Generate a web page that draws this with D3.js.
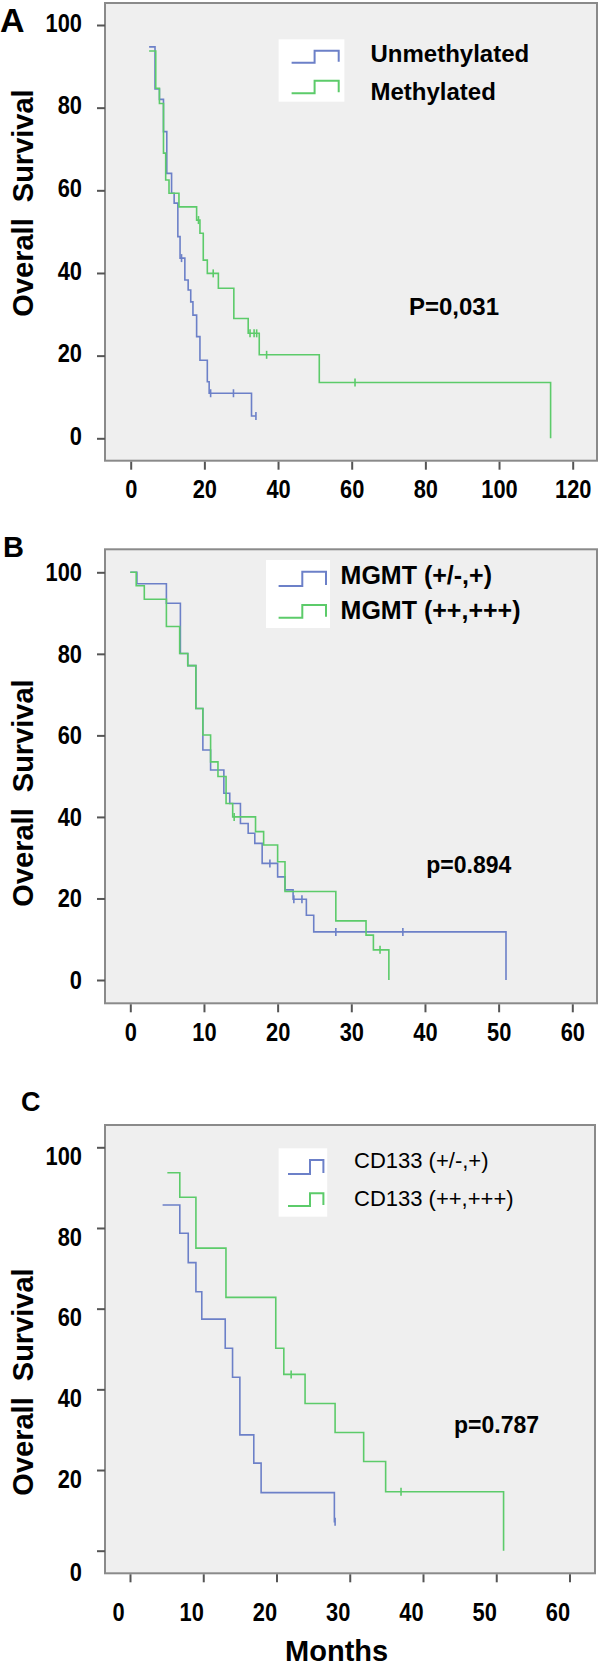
<!DOCTYPE html>
<html>
<head>
<meta charset="utf-8">
<script src="https://cdn.jsdelivr.net/npm/d3@7"></script>
<style>
  body { margin: 0; background: #fff; }
  text { font-family: "Liberation Sans", Arial, sans-serif; fill: #000; }
  .tick text { font-weight: bold; font-size: 26px; }
  .tick line { stroke: #555; stroke-width: 2; }
</style>
</head>
<body>
<script>
// ---- data ----
var survTicks = [0, 20, 40, 60, 80, 100];
var monthTicksA = [0, 20, 40, 60, 80, 100, 120];
var monthTicksBC = [0, 10, 20, 30, 40, 50, 60];

// A: MGMT promoter
var aUnmethTime = [5, 6.6, 7.8, 8.9, 9.8, 11.1, 11.8, 12.8, 13.4, 14.7, 15.6, 16.3, 16.9, 17.9, 18.8, 20.8, 21.3, 32.8];
var aUnmethSurv = [94.7, 84.5, 82, 74.2, 64.1, 59.3, 56.9, 48.8, 43.6, 38.3, 35.9, 33, 29.8, 24.6, 18.9, 13.7, 10.9, 5.4];
var aUnmethCensor = [13.8, 21.7, 27.9, 34];
var aUnmethEnd = 34;

var aMethTime = [5, 6.8, 7.8, 8.9, 9.5, 10.4, 13.1, 17.9, 18.8, 19.7, 20.8, 23.8, 28, 31.9, 34.9, 51.2, 114];
var aMethSurv = [93.7, 84.7, 81, 69, 62.5, 59.3, 56, 52.8, 49.6, 43.1, 39.9, 36.3, 29, 25.4, 20.2, 13.5, 0];
var aMethCensor = [18.4, 22.4, 32.4, 33.5, 34.2, 36.9, 60.9];
var aMethEnd = 114;

// B: MGMT protein
var bLowTime = [0, 0.9, 4.9, 6.8, 7.8, 8.9, 9.85, 10.9, 12.7, 13.5, 14.95, 16, 16.9, 17.9, 20, 21, 22.1, 23.9, 24.9, 51];
var bLowSurv = [100, 97.2, 92.4, 80.1, 77.1, 66.6, 56.4, 51.5, 45.8, 43.3, 38.4, 36, 33.5, 28.6, 25.3, 22.1, 19.8, 15.9, 11.8, 0];
var bLowCensor = [18.95, 22.2, 23.3, 27.9, 37];
var bLowEnd = 51;

var bHighTime = [0, 0.8, 1.9, 4.9, 6.7, 7.8, 8.9, 9.85, 10.9, 11.9, 13, 13.9, 17, 18.1, 20, 21, 27.9, 32, 33, 35.1];
var bHighSurv = [100, 96.7, 93.4, 86.7, 80.1, 77.1, 66.6, 60.1, 53.5, 49.9, 43.3, 40, 36.4, 33.1, 29, 21.7, 14.5, 11, 7.4, 0];
var bHighCensor = [14.1, 33.9];
var bHighEnd = 35.1;

// C: CD133
var cLowTime = [4.45, 6.8, 7.95, 9, 9.8, 13, 14, 15, 16.9, 17.9, 27.9];
var cLowSurv = [85.7, 78.7, 71.4, 64.2, 57.4, 50.2, 43, 28.7, 21.7, 14.4, 7.2];
var cLowCensor = [28];
var cLowEnd = 28;

var cHighTime = [5.1, 6.8, 9, 13.1, 19.9, 21, 23.9, 28, 31.9, 34.9, 51];
var cHighSurv = [93.7, 87.6, 75, 62.8, 50.2, 43.7, 36.5, 29.3, 22.1, 14.6, 0];
var cHighCensor = [22, 37];
var cHighEnd = 51;

var blue = '#6c80c8', green = '#5ccb6a';

// ---- layout ----
var width = 600, height = 1667;
var svg = d3.select('body').append('svg')
  .attr('width', width)
  .attr('height', height);

var narrow = 0.84;  // reference tick labels are a condensed face

var panels = [
  { letter: 'A', letterPos: [0, 32], letterSize: 34,
    frame: [105, 3, 597, 460.7], x0: 130.7, x1: 572.7, xMax: 120, xTicks: monthTicksA,
    y0: 438.3, y100: 25, xPad: 10, xShift: 0, yShift: d => -2,
    titleY: 203,
    series: [
      { time: aUnmethTime, surv: aUnmethSurv, censor: aUnmethCensor, end: aUnmethEnd, color: blue, name: 'Unmethylated' },
      { time: aMethTime, surv: aMethSurv, censor: aMethCensor, end: aMethEnd, color: green, name: 'Methylated' }
    ],
    legend: { box: [278.6, 39.3, 65.8, 62.4], sx: [291.6, 314.6, 338.7], rows: [[62.7, 50.7], [93.3, 80.7]],
      tx: 370.5, ty: [53.3, 91.7], size: 24, weight: 'bold' },
    pval: { text: 'P=0,031', x: 454, y: 315, size: 24 } },
  { letter: 'B', letterPos: [3, 557], letterSize: 29,
    frame: [105, 549.3, 597, 1003.3], x0: 130.3, x1: 572.3, xMax: 60, xTicks: monthTicksBC,
    y0: 980, y100: 572.3, xPad: 10.5, xShift: 0, yShift: d => 0,
    titleY: 793,
    series: [
      { time: bLowTime, surv: bLowSurv, censor: bLowCensor, end: bLowEnd, color: blue, name: 'MGMT (+/-,+)' },
      { time: bHighTime, surv: bHighSurv, censor: bHighCensor, end: bHighEnd, color: green, name: 'MGMT (++,+++)' }
    ],
    legend: { box: [266, 560, 64, 68], sx: [278.6, 302.3, 326], rows: [[586, 571.7], [617.7, 605]],
      tx: 340.6, ty: [575, 610], size: 25, weight: 'bold' },
    pval: { text: 'p=0.894', x: 468.8, y: 872.7, size: 23 } },
  { letter: 'C', letterPos: [21, 1111], letterSize: 27,
    frame: [105, 1125, 595, 1573.3], x0: 130, x1: 569.5, xMax: 60, xTicks: monthTicksBC,
    y0: 1550.7, y100: 1147.3, xPad: 20, xShift: -12, yShift: d => d === 0 ? 21 : 9,
    titleY: 1382,
    series: [
      { time: cLowTime, surv: cLowSurv, censor: cLowCensor, end: cLowEnd, color: blue, name: 'CD133 (+/-,+)' },
      { time: cHighTime, surv: cHighSurv, censor: cHighCensor, end: cHighEnd, color: green, name: 'CD133 (++,+++)' }
    ],
    legend: { box: [278.6, 1148.3, 48.6, 68.4], sx: [288, 310, 323.4], rows: [[1174, 1160], [1206, 1193.3]],
      tx: 354, ty: [1160, 1198.3], size: 22, weight: 'normal' },
    pval: { text: 'p=0.787', x: 496.5, y: 1433, size: 23 } }
];

panels.forEach(drawPanel);

svg.append('text')
  .attr('x', 336.6).attr('y', 1660.5)
  .attr('text-anchor', 'middle')
  .style('font-size', '29px').style('font-weight', 'bold')
  .text('Months');

function drawPanel(p) {
  var g = svg.append('g');
  var f = p.frame;

  g.append('rect')
    .attr('x', f[0]).attr('y', f[1])
    .attr('width', f[2] - f[0]).attr('height', f[3] - f[1])
    .attr('fill', '#efefef').attr('stroke', '#8a8a8a').attr('stroke-width', 2);

  var x = d3.scaleLinear().domain([0, p.xMax]).range([p.x0, p.x1]);
  var y = d3.scaleLinear().domain([0, 100]).range([p.y0, p.y100]);

  var ya = g.append('g')
    .attr('transform', 'translate(' + f[0] + ',0)')
    .call(d3.axisLeft(y).tickValues(survTicks).tickSize(8).tickPadding(15).tickSizeOuter(0));
  ya.select('.domain').remove();
  ya.selectAll('.tick text')
    .attr('x', 0)
    .attr('transform', d => 'translate(-23,' + p.yShift(d) + ') scale(' + narrow + ',1)');

  var xa = g.append('g')
    .attr('transform', 'translate(0,' + (f[3] + 1) + ')')
    .call(d3.axisBottom(x).tickValues(p.xTicks).tickSize(8).tickPadding(p.xPad).tickSizeOuter(0));
  xa.select('.domain').remove();
  xa.selectAll('.tick text').attr('transform', 'translate(' + p.xShift + ',0) scale(' + narrow + ',1)');

  // survival steps
  var line = d3.line()
    .x(d => x(d[0]))
    .y(d => y(d[1]))
    .curve(d3.curveStepAfter);

  p.series.forEach(s => {
    var pts = s.time.map((t, i) => [t, s.surv[i]]);
    pts.push([s.end, s.surv[s.surv.length - 1]]);
    g.append('path')
      .attr('d', line(pts))
      .attr('fill', 'none')
      .attr('stroke', s.color)
      .attr('stroke-width', 1.6);

    g.selectAll(null)
      .data(s.censor)
      .join('line')
        .attr('x1', c => x(c)).attr('x2', c => x(c))
        .attr('y1', c => y(s.surv[d3.bisectRight(s.time, c) - 1]) - 4)
        .attr('y2', c => y(s.surv[d3.bisectRight(s.time, c) - 1]) + 4)
        .attr('stroke', s.color)
        .attr('stroke-width', 1.6);
  });

  // legend
  var L = p.legend;
  g.append('rect')
    .attr('x', L.box[0]).attr('y', L.box[1])
    .attr('width', L.box[2]).attr('height', L.box[3])
    .attr('fill', '#fff');
  p.series.forEach((s, i) => {
    var r = L.rows[i];
    g.append('path')
      .attr('d', 'M' + L.sx[0] + ',' + r[0] + 'H' + L.sx[1] + 'V' + r[1] + 'H' + L.sx[2] + 'V' + (r[0] - 1))
      .attr('fill', 'none').attr('stroke', s.color).attr('stroke-width', 2);
    g.append('text')
      .attr('x', L.tx).attr('y', L.ty[i])
      .attr('dominant-baseline', 'central')
      .style('font-size', L.size + 'px').style('font-weight', L.weight)
      .text(s.name);
  });

  g.append('text')
    .attr('x', p.pval.x).attr('y', p.pval.y)
    .attr('text-anchor', 'middle')
    .style('font-size', p.pval.size + 'px').style('font-weight', 'bold')
    .text(p.pval.text);

  g.append('text')
    .attr('transform', 'translate(22.5,' + p.titleY + ') rotate(-90)')
    .attr('text-anchor', 'middle').attr('dominant-baseline', 'central')
    .style('font-size', '29px').style('font-weight', 'bold')
    .style('white-space', 'pre')
    .text('Overall  Survival');

  g.append('text')
    .attr('x', p.letterPos[0]).attr('y', p.letterPos[1])
    .style('font-size', p.letterSize + 'px').style('font-weight', 'bold')
    .text(p.letter);
}
</script>
</body>
</html>
